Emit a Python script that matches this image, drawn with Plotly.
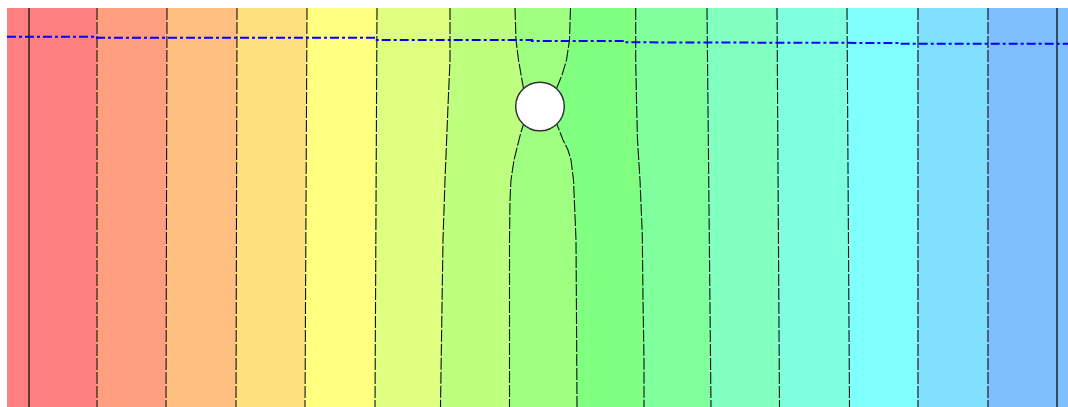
import plotly.graph_objects as go

# Section extents (m): horizontal distance, elevation below the top of the section
X_MIN, X_MAX = -2.2, 103.9
Y_TOP, Y_BOTTOM = 0.0, -39.9

# Fixed-head boundaries
boundary_x = [0.0, 102.8]

# Near-straight equipotentials: x at the top and at the bottom of the section
left_top_x = [6.8, 13.8, 20.8, 27.8, 34.8]
left_bottom_x = [6.8, 13.7, 20.7, 27.6, 34.6]
right_top_x = [67.8, 74.8, 81.8, 88.9, 95.9]
right_bottom_x = [68.2, 75.05, 82.05, 88.9, 95.9]

# Equipotential left of the cylinder
e6_x = [42.1, 42.1, 41.9, 41.7, 41.6, 41.4, 41.25, 41.15]
e6_y = [0.0, -5.2, -9.8, -14.2, -17.2, -23.2, -34.2, -39.9]

# Equipotentials ending on the cylinder (upper and lower branches)
a_top_x = [48.6, 48.7, 48.95, 49.2, 49.45]
a_top_y = [0.0, -3.2, -5.2, -6.7, -8.05]
a_bot_x = [49.45, 49.2, 49.0, 48.75, 48.5, 48.2, 48.1, 48.05, 48.05]
a_bot_y = [-11.65, -12.4, -13.2, -14.2, -15.2, -17.2, -19.2, -23.2, -39.9]

b_top_x = [54.15, 54.05, 53.75, 53.3, 52.75]
b_top_y = [0.0, -3.2, -5.2, -6.7, -8.05]
b_bot_x = [52.8, 53.1, 53.4, 53.9, 54.2, 54.45, 54.55, 54.7, 54.77, 54.8]
b_bot_y = [-11.65, -12.4, -13.2, -14.2, -15.2, -17.2, -19.2, -23.2, -34.2, -39.9]

# Equipotential right of the cylinder
e9_x = [60.67, 60.67, 60.75, 60.85, 61.1, 61.2, 61.33, 61.4, 61.5, 61.5]
e9_y = [0.0, -5.2, -9.2, -13.2, -17.2, -19.2, -22.7, -29.2, -35.2, -39.9]

# Cylinder (centre and radius, m)
cyl_x, cyl_y, cyl_r = 51.1, -9.85, 2.43

# Water table
wt_x = [-2.2, 6.6, 6.6, 34.6, 34.6, 50.3, 50.3, 59.6, 59.6, 76.1, 76.1, 87.1, 87.1, 103.9]
wt_y = [-2.87, -2.87, -2.97, -2.97, -3.2, -3.2, -3.3, -3.3, -3.43, -3.43, -3.5, -3.5, -3.57, -3.57]

# Head band colours, high head (left) to low head (right)
band_colors = ["#FF8080", "#FF9F80", "#FFBF80", "#FFDF80", "#FFFF80", "#DFFF80",
               "#BFFF80", "#9FFF80", "#80FF80", "#80FF9F", "#80FFBF", "#80FFDF",
               "#80FFFF", "#80DFFF", "#80BFFF"]

# Assemble every equipotential as a top-to-bottom path
lines = []
for xt, xb in zip(left_top_x, left_bottom_x):
    lines.append(([xt, xb], [Y_TOP, Y_BOTTOM]))
lines.append((e6_x, e6_y))
# branches joined through the cylinder centre (hidden under the cylinder)
lines.append((a_top_x + [cyl_x] + a_bot_x, a_top_y + [cyl_y] + a_bot_y))
lines.append((b_top_x + [cyl_x] + b_bot_x, b_top_y + [cyl_y] + b_bot_y))
lines.append((e9_x, e9_y))
for xt, xb in zip(right_top_x, right_bottom_x):
    lines.append(([xt, xb], [Y_TOP, Y_BOTTOM]))

edges = [([X_MIN, X_MIN], [Y_TOP, Y_BOTTOM])] + lines + [([X_MAX, X_MAX], [Y_TOP, Y_BOTTOM])]

fig = go.Figure()

# Filled head bands between consecutive equipotentials
for i, col in enumerate(band_colors):
    lx, ly = edges[i]
    rx, ry = edges[i + 1]
    fig.add_trace(go.Scatter(
        x=list(lx) + list(rx)[::-1], y=list(ly) + list(ry)[::-1],
        mode="lines", fill="toself", fillcolor=col,
        line=dict(color=col, width=1), hoverinfo="skip", showlegend=False))

# Equipotential contour lines
for lx, ly in lines:
    fig.add_trace(go.Scatter(
        x=lx, y=ly, mode="lines",
        line=dict(color="#111111", width=1.1, dash="12px,2px"),
        hoverinfo="skip", showlegend=False))

# Fixed-head boundaries
for bx in boundary_x:
    fig.add_trace(go.Scatter(
        x=[bx, bx], y=[Y_TOP, Y_BOTTOM], mode="lines",
        line=dict(color="rgba(0,0,0,0.6)", width=2),
        hoverinfo="skip", showlegend=False))

# Water table
fig.add_trace(go.Scatter(
    x=wt_x, y=wt_y, mode="lines",
    line=dict(color="#0000FF", width=2, dash="9px,3px,3px,3px"),
    hoverinfo="skip", showlegend=False))

# Cylinder
fig.add_shape(type="circle", xref="x", yref="y",
              x0=cyl_x - cyl_r, x1=cyl_x + cyl_r, y0=cyl_y - cyl_r, y1=cyl_y + cyl_r,
              fillcolor="white", line=dict(color="#333333", width=1.5), layer="above")
fig.add_trace(go.Scatter(
    x=[cyl_x], y=[cyl_y], mode="markers",
    marker=dict(color="#FF7070", size=2), hoverinfo="skip", showlegend=False))

fig.update_xaxes(range=[X_MIN, X_MAX], visible=False, fixedrange=True)
fig.update_yaxes(range=[Y_BOTTOM, Y_TOP], visible=False, fixedrange=True)
fig.update_layout(
    width=1068, height=407,
    margin=dict(l=7, r=0, t=8, b=0),
    paper_bgcolor="white", plot_bgcolor="white",
    showlegend=False,
)

fig.write_html("out.html")
